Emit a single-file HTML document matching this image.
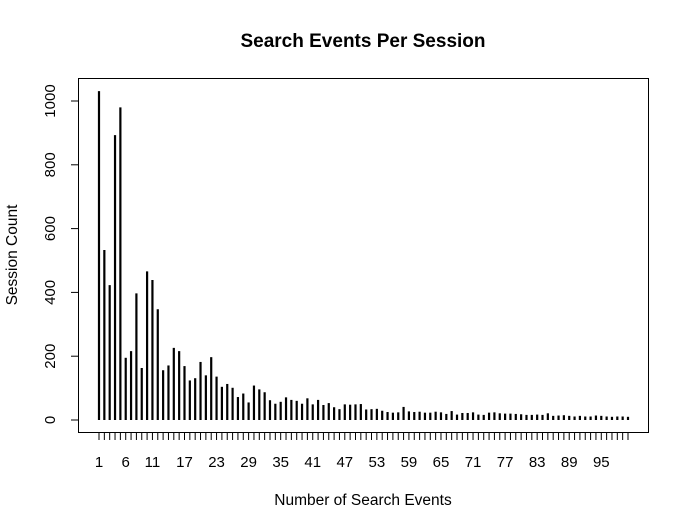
<!DOCTYPE html>
<html><head><meta charset="utf-8"><style>body{margin:0;background:#fff}svg{display:block;font-family:"Liberation Sans",sans-serif}</style></head>
<body>
<svg id="c" width="689" height="531"></svg>
<script>
const categories = Array.from({length:100},(_, i)=>i+1);
const counts = [1031,533,423,893,980,195,216,397,163,466,439,347,156,171,226,216,169,124,131,182,140,197,136,104,113,101,72,83,55,108,96,87,62,51,57,71,63,60,51,68,49,63,47,53,40,34,49,48,49,50,33,34,35,29,25,23,24,41,27,25,26,23,23,26,24,19,28,17,22,22,24,17,16,23,24,21,20,20,19,18,16,16,17,16,21,13,14,15,13,11,13,11,11,14,13,11,10,11,11,10];
const xLabels = [1,6,11,17,23,29,35,41,47,53,59,65,71,77,83,89,95];
const yTicks = [0,200,400,600,800,1000];
const NS="http://www.w3.org/2000/svg", svg=document.getElementById('c');
function el(t,a,p){const e=document.createElementNS(NS,t);for(const k in a)e.setAttribute(k,a[k]);(p||svg).appendChild(e);return e;}
const x = c => 99 + (c-1)*(628-99)/99;
const y = v => 420 - v*0.319;
let e;
e=el('text',{x:363,y:47,'text-anchor':'middle','font-size':19,'font-weight':'bold'});e.textContent='Search Events Per Session';


e=el('rect',{x:78.5,y:78.5,width:570,height:354,fill:'none',stroke:'#000'});


categories.forEach((c,i)=>{
  const b=el('line',{x1:x(c),x2:x(c),y1:y(0),y2:y(counts[i]),stroke:'#000','stroke-width':2.2});
  
  
  const t=el('line',{x1:x(c),x2:x(c),y1:432,y2:440,stroke:'#000'});
  
  
});
e=el('line',{x1:x(1),x2:x(100),y1:432.5,y2:432.5,stroke:'#000'});


xLabels.forEach(l=>{const t=el('text',{x:x(l),y:467,'text-anchor':'middle','font-size':15});t.textContent=l;
  
  });
e=el('line',{x1:78.5,x2:78.5,y1:y(0),y2:y(1000),stroke:'#000'});


yTicks.forEach(v=>{const t=el('line',{x1:71,x2:78,y1:y(v),y2:y(v),stroke:'#000'});
  
  
  const l=el('text',{x:0,y:0,'text-anchor':'middle','font-size':15,transform:`translate(55,${y(v)}) rotate(-90)`});l.textContent=v;
  
  });
e=el('text',{x:363,y:505,'text-anchor':'middle','font-size':15.5});e.textContent='Number of Search Events';


e=el('text',{x:0,y:0,'text-anchor':'middle','font-size':15.5,transform:'translate(17,255) rotate(-90)'});e.textContent='Session Count';


</script>
</body></html>
